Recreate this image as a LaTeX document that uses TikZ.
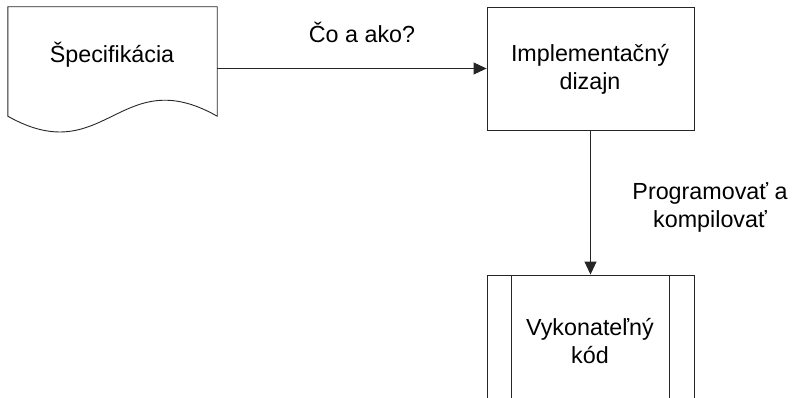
\documentclass[tikz,border=0pt]{standalone}
\usepackage{fontspec}
\setmainfont{Liberation Sans}
\usetikzlibrary{arrows.meta}
\begin{document}
\begin{tikzpicture}[x=1pt,y=-1pt,
  line/.style={draw=black!85,line width=0.9pt},
  flowbox/.style={line,rectangle,minimum width=207pt,inner sep=0pt},
  lbl/.style={font=\fontsize{23.3}{28}\selectfont,align=center,inner sep=0pt},
  flow/.style={line,-{Triangle[length=13pt,width=12pt]}}]
\useasboundingbox (0,0) rectangle (795,398);
\clip (0,0) rectangle (795,398);

% document shape with a wavy lower edge
\node (spec) [rectangle,minimum width=209pt,minimum height=109pt,inner sep=0pt] at (112.5,61.5) {};
\draw[line] (spec.north west) -- (spec.north east) -- (spec.south east)
  .. controls (120,61) and (105,171) .. (spec.south west) -- cycle;
\node (spectext) [lbl] at (112,55) {Špecifikácia};

% design step
\node (impl) [flowbox,minimum height=123pt] at (590.5,68.5) {};
\node (impltext) [lbl] at (590,69) {Implementačný\\dizajn};

% predefined process (runs past the lower edge)
\node (exe) [flowbox,minimum height=132pt] at (590.5,341) {};
\draw[line] ([xshift=25pt]exe.north west) -- ([xshift=25pt]exe.south west);
\draw[line] ([xshift=-25pt]exe.north east) -- ([xshift=-25pt]exe.south east);
\node (exetext) [lbl] at (590,341) {Vykonateľný\\kód};

% connectors
\draw[flow] (spec.east |- impl.west) -- (impl.west);
\node (q) [lbl] at (362,32) {Čo a ako?};
\draw[flow] (impl.south) -- (exe.north);
\node (prog) [lbl] at (710,207) {Programovať a\\kompilovať};
\end{tikzpicture}
\end{document}
